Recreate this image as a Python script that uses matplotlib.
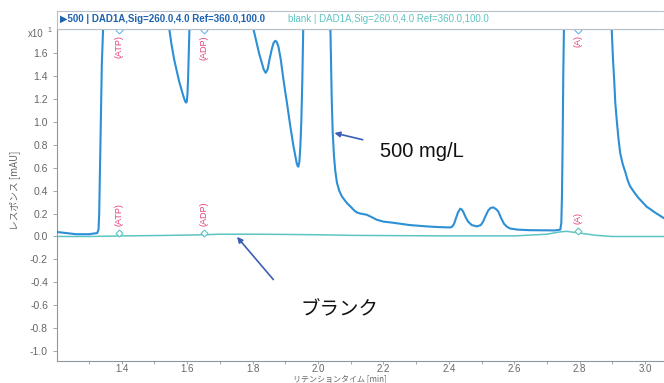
import matplotlib
matplotlib.use("Agg")
import matplotlib.pyplot as plt
from matplotlib.patches import Rectangle

plt.rcParams['font.family'] = ['Liberation Sans', 'Noto Sans CJK JP', 'DejaVu Sans']

# ---- data ----
t_500 = [1.20, 1.23, 1.26, 1.30, 1.325, 1.329, 1.331, 1.333, 1.336, 1.339, 1.343, 1.36,
         1.50, 1.545, 1.552, 1.56, 1.568, 1.575, 1.582, 1.588, 1.592, 1.595, 1.597, 1.599,
         1.601, 1.603, 1.605, 1.607, 1.62,
         1.78, 1.802, 1.812, 1.820, 1.828, 1.834, 1.840, 1.846, 1.852, 1.859, 1.864, 1.869,
         1.874, 1.879, 1.886, 1.893, 1.899, 1.905, 1.915, 1.925, 1.931, 1.935, 1.938, 1.940,
         1.943, 1.946, 1.949, 1.952, 1.955, 1.965,
         2.02, 2.038, 2.040, 2.042, 2.045, 2.049, 2.053, 2.058, 2.065, 2.073, 2.081, 2.089,
         2.100, 2.110, 2.119, 2.13, 2.14, 2.149, 2.16, 2.17, 2.18, 2.20, 2.23, 2.28, 2.333,
         2.37, 2.404, 2.410, 2.416, 2.422, 2.428, 2.435, 2.440, 2.445, 2.452, 2.459, 2.470,
         2.486, 2.498, 2.505, 2.511, 2.520, 2.528, 2.536, 2.544, 2.551, 2.560, 2.569, 2.578,
         2.587, 2.61, 2.648, 2.725, 2.741, 2.744, 2.746, 2.748, 2.750, 2.752, 2.76,
         2.88, 2.898, 2.902, 2.906, 2.909, 2.914, 2.919, 2.924, 2.932, 2.94, 2.947, 2.954,
         2.966, 2.979, 2.992, 3.005, 3.018, 3.030, 3.044, 3.058]
y_500 = [0.04, 0.03, 0.02, 0.02, 0.03, 0.06, 0.2, 0.5, 1.0, 1.5, 1.82, 3.5,
         3.5, 1.82, 1.68, 1.55, 1.45, 1.36, 1.29, 1.23, 1.195, 1.175, 1.17, 1.18,
         1.25, 1.40, 1.60, 1.82, 3.5,
         3.5, 1.82, 1.70, 1.60, 1.52, 1.46, 1.43, 1.46, 1.55, 1.64, 1.69, 1.71,
         1.70, 1.66, 1.55, 1.40, 1.28, 1.17, 0.97, 0.79, 0.70, 0.64, 0.615, 0.61,
         0.65, 0.78, 1.00, 1.35, 1.82, 3.5,
         3.5, 1.82, 1.50, 1.20, 0.91, 0.70, 0.57, 0.47, 0.40, 0.35, 0.32, 0.29,
         0.26, 0.23, 0.21, 0.20, 0.195, 0.19, 0.175, 0.16, 0.146, 0.13, 0.12, 0.10, 0.088,
         0.082, 0.079, 0.085, 0.11, 0.16, 0.21, 0.243, 0.235, 0.21, 0.165, 0.13, 0.10,
         0.088, 0.10, 0.13, 0.17, 0.225, 0.25, 0.254, 0.24, 0.22, 0.16, 0.11, 0.085,
         0.07, 0.06, 0.055, 0.053, 0.06, 0.12, 0.35, 0.8, 1.4, 1.82, 3.5,
         3.5, 1.82, 1.55, 1.35, 1.17, 1.00, 0.85, 0.73, 0.63, 0.56, 0.49, 0.44,
         0.39, 0.34, 0.30, 0.26, 0.235, 0.21, 0.185, 0.16]

t_blank = [1.20, 1.30, 1.40, 1.50, 1.55, 1.60, 1.65, 1.70, 1.80, 1.90, 2.00, 2.10,
           2.20, 2.40, 2.60, 2.70, 2.74, 2.76, 2.80, 2.85, 2.90, 3.058]
y_blank = [0.00, 0.00, 0.005, 0.008, 0.01, 0.012, 0.015, 0.02, 0.02, 0.018, 0.015, 0.01,
           0.008, 0.005, 0.005, 0.02, 0.04, 0.045, 0.03, 0.01, 0.0, 0.0]

peak_names = ['(ATP)', '(ADP)', '(A)']
peak_times = [1.392, 1.652, 2.796]
peak_y_500 = [1.80, 1.80, 1.80]
peak_y_blank = [0.03, 0.03, 0.05]

x_ticks = [1.4, 1.6, 1.8, 2.0, 2.2, 2.4, 2.6, 2.8, 3.0]
y_ticks = [-1.0, -0.8, -0.6, -0.4, -0.2, 0.0, 0.2, 0.4, 0.6, 0.8, 1.0, 1.2, 1.4, 1.6]

# ---- styling ----
c500 = '#2d8fd5'
cblank = '#5ec4c2'
cpink = '#e5407e'
cspine = '#8e96a3'
ctick = '#666666'

fig = plt.figure(figsize=(6.64, 3.83), dpi=100)
W, H = 664, 383
ax = fig.add_axes([57 / W, 1 - 361 / H, 1 - 57 / W, (361 - 29) / H])
ax.set_xlim(1.202, 3.058)
ax.set_ylim(-1.088, 1.813)

ax.plot(t_blank, y_blank, color=cblank, lw=1.1, zorder=2)
ax.plot(t_500, y_500, color=c500, lw=1.5, zorder=3, solid_joinstyle='round')

for name, t, yu, yb in zip(peak_names, peak_times, peak_y_500, peak_y_blank):
    ax.plot([t], [yu], marker='D', ms=3.5, mfc='white', mec='#67b8e8', mew=0.8,
            clip_on=False, zorder=4)
    ax.plot([t], [yb], marker='D', ms=3.5, mfc='white', mec=cblank, mew=0.8, zorder=4)
    ax.text(t, yu - 0.04, name, rotation=90, ha='center', va='top', fontsize=6.5,
            color=cpink)
    ax.text(t, yb + 0.06, name, rotation=90, ha='center', va='bottom', fontsize=6.5,
            color=cpink)

ax.set_xticks(x_ticks)
ax.set_xticklabels([f'{v:.1f}' for v in x_ticks])
ax.set_xticks([v + 0.1 for v in [1.2] + x_ticks if v + 0.1 < 3.058], minor=True)
ax.set_yticks(y_ticks)
ax.set_yticklabels([f'{v:.1f}' for v in y_ticks])
ax.tick_params(axis='both', which='both', colors=cspine, labelcolor=ctick,
               labelsize=7.5, length=3, width=0.6, direction='out')
ax.tick_params(axis='x', which='minor', length=2)
ax.tick_params(axis='x', which='major', pad=0, length=2.5, labelsize=7)

ax.spines['right'].set_visible(False)
for s in ['left', 'bottom', 'top']:
    ax.spines[s].set_color(cspine)
    ax.spines[s].set_linewidth(0.8)

# labels
fig.text(15 / W, 1 - 190 / H, 'レスポンス [mAU]', rotation=90, ha='center', va='center',
         fontsize=7, color=ctick, family=['Noto Sans CJK JP'])
fig.text(340 / W, 0.0, 'リテンションタイム [min]', ha='center', va='bottom',
         fontsize=5.8, color=ctick, family=['Noto Sans CJK JP'])
fig.text(28 / W, 1 - 34 / H, 'x10', ha='left', va='center', fontsize=7, color=ctick)
fig.text(47 / W, 1 - 30 / H, '1', ha='left', va='center', fontsize=5, color=ctick)

# header bar
fig.patches.append(Rectangle((57 / W, 1 - 29 / H), 1 - 57 / W, 18 / H,
                             transform=fig.transFigure, facecolor='white',
                             edgecolor='#b8c0cc', linewidth=0.8))
fig.text(60 / W, 1 - 19 / H, '▶500 | DAD1A,Sig=260.0,4.0 Ref=360.0,100.0',
         ha='left', va='center', fontsize=7, color='#1f63b0', fontweight='bold',
         family=['Liberation Sans', 'DejaVu Sans'])
fig.text(288 / W, 1 - 19 / H, 'blank | DAD1A,Sig=260.0,4.0 Ref=360.0,100.0',
         ha='left', va='center', fontsize=7, color=cblank)

# annotations
carrow = '#3b5fb5'
ax.annotate('', xy=(2.042, 0.91), xytext=(2.145, 0.84),
            arrowprops=dict(arrowstyle='-|>', color=carrow, lw=1.2, mutation_scale=8))
ax.text(2.19, 0.743, '500 mg/L', ha='left', va='center', fontsize=14.5, color='#111111')
ax.annotate('', xy=(1.747, 0.015), xytext=(1.869, -0.395),
            arrowprops=dict(arrowstyle='-|>', color=carrow, lw=1.2, mutation_scale=8))
ax.text(1.945, -0.643, 'ブランク', ha='left', va='center', fontsize=14, color='#111111',
        family=['Noto Sans CJK JP'])

fig.savefig('out.png', dpi=100)
